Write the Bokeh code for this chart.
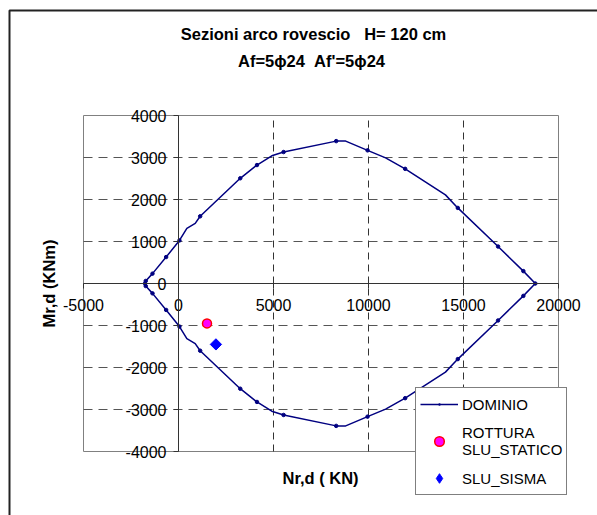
import math
from bokeh.plotting import figure
from bokeh.models import Range1d, LinearAxis, FixedTicker, Label, Legend, LegendItem
from bokeh.embed import file_html
from bokeh.resources import INLINE

# ---- data -------------------------------------------------------------
# Dominio di rottura: contour vertices (Nr,d in KN, Mr,d in KNm), closed loop
dom_N = [-1760, -1725, -1370, -650, 50, 440, 880, 1140, 3250, 4130, 4910, 5530,
         8300, 8800, 9950, 10900, 11930, 14050, 14700, 16820, 18150, 18780,
         18150, 16820, 14700, 14050, 11930, 10900, 9950, 8800, 8300, 5530, 4910,
         4130, 3250, 1140, 880, 440, 50, -650, -1370, -1725, -1760]
dom_M = [0, 60, 235, 630, 1025, 1310, 1430, 1600, 2505, 2820, 3040, 3130,
         3390, 3390, 3170, 2990, 2730, 2110, 1800, 880, 295, 0,
         -295, -880, -1800, -2110, -2730, -2990, -3170, -3390, -3390, -3130, -3040,
         -2820, -2505, -1600, -1430, -1310, -1025, -630, -235, -60, 0]
# vertices that carry a marker
mark_N = [-1760, -1725, -1370, -650, 50, 1140, 3250, 4130, 5530, 8300, 9950,
          11930, 14700, 16820, 18150, 18780, 18150, 16820, 14700, 11930, 9950,
          8300, 5530, 4130, 3250, 1140, 50, -650, -1370, -1725]
mark_M = [0, 60, 235, 630, 1025, 1600, 2505, 2820, 3130, 3390, 3170,
          2730, 1800, 880, 295, 0, -295, -880, -1800, -2730, -3170,
          -3390, -3130, -2820, -2505, -1600, -1025, -630, -235, -60]
# design actions
stat_N = [1500]
stat_M = [-950]
sism_N = [1970]
sism_M = [-1450]

x_ticks = [-5000, 0, 5000, 10000, 15000, 20000]
y_ticks = [-4000, -3000, -2000, -1000, 0, 1000, 2000, 3000, 4000]
x_grid = [5000, 10000, 15000]
y_grid = [-3000, -2000, -1000, 1000, 2000, 3000]

NBSP = "\u00a0"
title_1 = "Sezioni arco rovescio" + NBSP * 3 + "H= 120 cm"
title_2 = "Af=5\u03d524" + NBSP * 2 + "Af'=5\u03d524"
x_label = "Nr,d ( KN)"
y_label = "Mr,d (KNm)"
FONT = "Liberation Sans"
NAN = float("nan")   # legend-key proxies are never drawn in the plot

# ---- layout (pixels) ----------------------------------------------------
W, H = 597, 515
PA_L, PA_T, PA_R, PA_B = 83, 115, 558, 451      # plot-area box on the canvas
ux = (x_ticks[-1] - x_ticks[0]) / (PA_R - PA_L)
uy = (y_ticks[-1] - y_ticks[0]) / (PA_B - PA_T)


def px_x(px):
    return x_ticks[0] + (px - PA_L) * ux


def px_y(py):
    return y_ticks[-1] - (py - PA_T) * uy


p = figure(width=W, height=H, output_backend="svg", toolbar_location=None,
           x_range=Range1d(px_x(0), px_x(W)), y_range=Range1d(px_y(H), px_y(0)),
           x_axis_type=None, y_axis_type=None, min_border=0)
p.outline_line_color = None
p.background_fill_color = "white"
p.border_fill_color = "white"

# outer chart border
p.line([px_x(9), px_x(9), px_x(W + 10)], [px_y(H + 10), px_y(10), px_y(10)],
       line_color="#222222", line_width=2)

# plot area
p.quad(left=[x_ticks[0]], right=[x_ticks[-1]], bottom=[y_ticks[0]], top=[y_ticks[-1]],
       fill_color="white", line_color="#808080", line_width=1)

# grid lines (dashed)
p.segment(x0=x_grid, x1=x_grid, y0=[y_ticks[0]] * len(x_grid), y1=[y_ticks[-1]] * len(x_grid),
          line_color="#333333", line_dash="7 5", line_width=1)
p.segment(x0=[x_ticks[0]] * len(y_grid), x1=[x_ticks[-1]] * len(y_grid), y0=y_grid, y1=y_grid,
          line_color="#555555", line_dash="9 6", line_width=1)

# axes crossing at zero
xax = LinearAxis(fixed_location=0, ticker=FixedTicker(ticks=x_ticks),
                 bounds=(x_ticks[0], x_ticks[-1]),
                 major_label_overrides={t: str(t) for t in x_ticks})
yax = LinearAxis(fixed_location=0, ticker=FixedTicker(ticks=y_ticks),
                 bounds=(y_ticks[0], y_ticks[-1]),
                 major_label_overrides={t: str(t) for t in y_ticks})
for ax in (xax, yax):
    ax.axis_line_color = "#333333"
    ax.major_tick_line_color = "#333333"
    ax.major_tick_out = 5
    ax.major_tick_in = 0
    ax.minor_tick_line_color = None
    ax.major_label_text_font = FONT
    ax.major_label_text_font_size = "16px"
    ax.major_label_text_color = "black"
xax.major_label_standoff = 10
yax.major_label_standoff = 7
p.add_layout(xax, "below")
p.add_layout(yax, "left")

# data
dom_line = p.line(dom_N, dom_M, line_color="#000080", line_width=1.5)
dom_pts = p.scatter(mark_N, mark_M, marker="circle", size=3.5,
                    fill_color="#000080", line_color="#000080")
stat_r = p.scatter(stat_N, stat_M, marker="circle", size=9,
                   fill_color="#FF00FF", line_color="#FF0000", line_width=1.5)
sism_r = p.scatter(sism_N, sism_M, marker="square", angle=math.pi / 4, size=8,
                   fill_color="#0000FF", line_color="#0000FF")

# legend-key proxies (NaN position, nothing drawn in the plot)
dom_key = p.scatter([NAN], [NAN], marker="dot", size=10, fill_color="#000080",
                    line_color="#000080", line_width=2)
sism_key = p.scatter([NAN], [NAN], marker="diamond", size=10,
                     fill_color="#0000FF", line_color="#0000FF")

legend = Legend(items=[
    LegendItem(label="DOMINIO", renderers=[dom_line, dom_key]),
    LegendItem(label="ROTTURA\nSLU_STATICO", renderers=[stat_r]),
    LegendItem(label="SLU_SISMA", renderers=[sism_key]),
], location=(415, H - 495))
legend.border_line_color = "black"
legend.border_line_width = 1
legend.background_fill_color = "white"
legend.background_fill_alpha = 1
legend.label_text_font = FONT
legend.label_text_font_size = "15px"
legend.label_text_line_height = 1.0
legend.label_text_color = "black"
legend.glyph_width = 38
legend.glyph_height = 24
legend.label_height = 20
legend.label_standoff = 4
legend.padding = 4
legend.spacing = 8
legend.margin = 0
p.add_layout(legend)

# titles and axis titles
def bold_label(text, cx, cy, angle=0.0):
    return Label(x=px_x(cx), y=px_y(cy), text=text, angle=angle,
                 text_align="center", text_baseline="middle",
                 text_font=FONT, text_font_size="16.5px",
                 text_font_style="bold", text_color="black")


p.add_layout(bold_label(title_1, 313, 33))
p.add_layout(bold_label(title_2, 311, 60))
p.add_layout(bold_label(x_label, 320, 477))
p.add_layout(bold_label(y_label, 48, 283, angle=math.pi / 2))

open("out.html", "w").write(file_html(p, INLINE))
